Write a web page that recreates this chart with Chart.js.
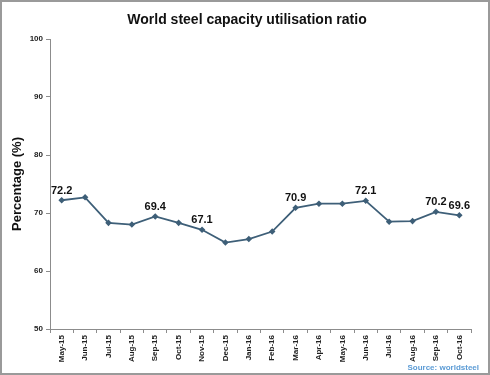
<!DOCTYPE html>
<html>
<head>
<meta charset="utf-8">
<style>
  html, body { margin: 0; padding: 0; background: #fff; }
  #wrap { width: 490px; height: 375px; position: relative; }
</style>
<script src="https://cdn.jsdelivr.net/npm/chart.js@4/dist/chart.umd.min.js"></script>
</head>
<body>
<div id="wrap"><canvas id="steelChart" width="490" height="375"></canvas></div>
<script>
// chart data
const months = ['May-15', 'Jun-15', 'Jul-15', 'Aug-15', 'Sep-15', 'Oct-15', 'Nov-15', 'Dec-15', 'Jan-16',
    'Feb-16', 'Mar-16', 'Apr-16', 'May-16', 'Jun-16', 'Jul-16', 'Aug-16', 'Sep-16', 'Oct-16'];
const utilisation = [72.2, 72.7, 68.3, 68.0, 69.4, 68.3, 67.1, 64.9, 65.5,
    66.8, 70.9, 71.6, 71.6, 72.1, 68.5, 68.6, 70.2, 69.6];
const labelledPoints = [0, 4, 6, 10, 13, 16, 17];
const yTicks = [50, 60, 70, 80, 90, 100];

const FONT = '"Liberation Sans", Arial, sans-serif';
const AXIS_GREY = '#8c8c8c';

// title, axis title, source note, value labels, frame
const decorations = {
    id: 'decorations',
    afterDraw(chart) {
        const { ctx, chartArea } = chart;
        const meta = chart.getDatasetMeta(0);
        ctx.save();

        ctx.fillStyle = '#111';
        ctx.textAlign = 'center';
        ctx.textBaseline = 'middle';
        ctx.font = 'bold 14px ' + FONT;
        ctx.fillText('World steel capacity utilisation ratio', 247, 20);

        ctx.save();
        ctx.translate(17, (chartArea.top + chartArea.bottom) / 2);
        ctx.rotate(-Math.PI / 2);
        ctx.font = 'bold 13px ' + FONT;
        ctx.fillText('Percentage (%)', 0, 0);
        ctx.restore();

        ctx.font = 'bold 11px ' + FONT;
        ctx.textBaseline = 'bottom';
        labelledPoints.forEach(i => {
            const pt = meta.data[i];
            ctx.fillText(utilisation[i].toFixed(1), pt.x, pt.y - 4);
        });

        ctx.font = 'bold 8px ' + FONT;
        ctx.fillStyle = '#5b9bd5';
        ctx.textAlign = 'right';
        ctx.textBaseline = 'middle';
        ctx.fillText('Source: worldsteel', 479, 368);

        ctx.strokeStyle = '#9a9a9a';
        ctx.lineWidth = 2;
        ctx.strokeRect(1, 1, 488, 373);
        ctx.restore();
    }
};

new Chart(document.getElementById('steelChart'), {
    type: 'line',
    data: {
        labels: months,
        datasets: [{
            data: utilisation,
            borderColor: '#3e5f78',
            backgroundColor: '#3e5f78',
            borderWidth: 1.8,
            pointStyle: 'rectRot',
            pointRadius: 2,
            tension: 0
        }]
    },
    options: {
        responsive: false,
        animation: false,
        layout: { padding: { left: 0, right: 19, top: 39, bottom: 0 } },
        plugins: { legend: { display: false }, tooltip: { enabled: false } },
        scales: {
            x: {
                offset: true,
                afterFit: s => { s.height = 46; },
                border: { color: AXIS_GREY, width: 1 },
                grid: { drawOnChartArea: false, drawTicks: true, tickLength: 4, color: AXIS_GREY, offset: true },
                ticks: {
                    minRotation: 90, maxRotation: 90, autoSkip: false, padding: 2,
                    color: '#222', font: { family: FONT, size: 8, weight: 'bold' }
                }
            },
            y: {
                min: 50,
                max: 100,
                afterFit: s => { s.width = 50; },
                afterBuildTicks: s => { s.ticks = yTicks.map(v => ({ value: v })); },
                border: { color: AXIS_GREY, width: 1 },
                grid: { drawOnChartArea: false, drawTicks: true, tickLength: 4, color: AXIS_GREY },
                ticks: {
                    padding: 3,
                    color: '#222', font: { family: FONT, size: 8, weight: 'bold' }
                }
            }
        }
    },
    plugins: [decorations]
});
</script>
</body>
</html>
